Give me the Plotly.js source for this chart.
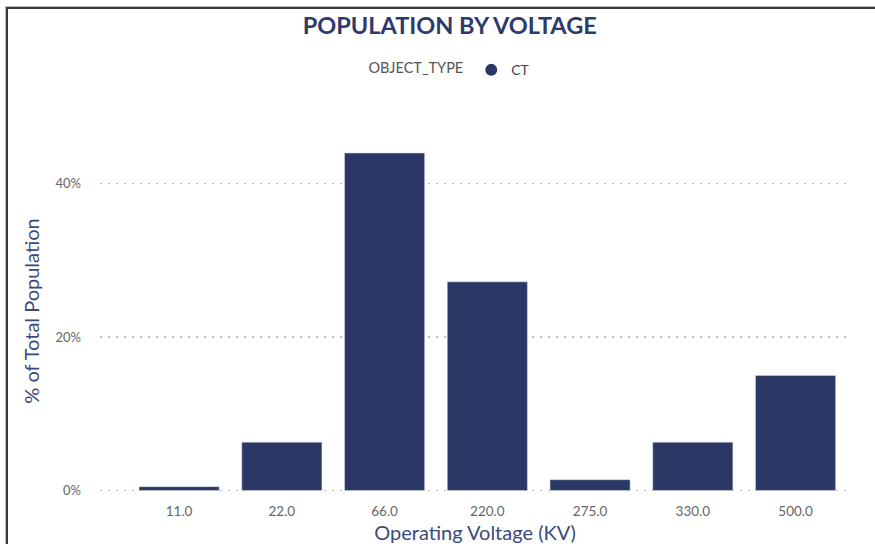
<!DOCTYPE html>
<html>
<head>
<meta charset="utf-8">
<script src="https://cdn.plot.ly/plotly-3.0.1.min.js"></script>
<style>
  html, body { margin: 0; padding: 0; background: #fff; }
  #wrap { position: relative; width: 875px; height: 544px; overflow: hidden; }
  #chart { width: 875px; height: 544px; }
  #frame { position: absolute; left: 6px; top: 7px; width: 875px; height: 544px;
           border-top: 2px solid #3a3a3a; border-left: 2px solid #3a3a3a;
           box-shadow: -1px -1px 0 #bdbdbd; pointer-events: none; }
</style>
</head>
<body>
<div id="wrap">
  <div id="chart"></div>
  <div id="frame"></div>
</div>
<script>
const categories = ["11.0", "22.0", "66.0", "220.0", "275.0", "330.0", "500.0"];
const pctValues = [0.5, 6.3, 44.0, 27.2, 1.4, 6.3, 15.0];
const seriesName = "CT";
const yTicks = [0, 20, 40];
const yTickLabels = ["0%", "20%", "40%"];

const barColor = "#2b3865";
const font = "Lato, 'Open Sans', sans-serif";

const traces = [
  {
    type: "bar",
    x: categories,
    y: pctValues,
    name: seriesName,
    marker: { color: barColor, line: { color: "#dfe2ea", width: 0.5 } },
    showlegend: false,
    hoverinfo: "x+y"
  },
  {
    type: "scatter",
    mode: "markers",
    x: [null],
    y: [null],
    name: seriesName,
    marker: { color: barColor, symbol: "circle", size: 15 },
    showlegend: true
  }
];

const layout = {
  width: 875,
  height: 544,
  paper_bgcolor: "#ffffff",
  plot_bgcolor: "#ffffff",
  margin: { l: 100, r: 25, t: 130, b: 52, autoexpand: false },
  font: { family: font, color: "#555" },
  title: {
    text: "<b>POPULATION BY VOLTAGE</b>",
    font: { family: font, size: 23.5, color: "#2e3a6b" },
    x: 0.514, xanchor: "center",
    y: 0.952, yanchor: "middle"
  },
  showlegend: true,
  legend: {
    orientation: "h",
    x: 0.468, xanchor: "center",
    y: 1.165, yanchor: "middle",
    title: { text: "OBJECT_TYPE", font: { family: font, size: 14.5, color: "#555" }, side: "left" },
    font: { family: font, size: 14, color: "#444" },
    itemsizing: "constant",
    itemwidth: 30
  },
  bargap: 0.22,
  xaxis: {
    type: "category",
    categoryarray: categories,
    range: [-0.77, 6.53],
    showgrid: false,
    zeroline: false,
    showline: false,
    ticks: "",
    automargin: false,
    ticklabelstandoff: 9,
    tickfont: { family: font, size: 13.5, color: "#666" },
    title: {
      text: "Operating Voltage (KV)",
      font: { family: font, size: 20, color: "#3b4a7a" },
      standoff: 13
    }
  },
  yaxis: {
    range: [-0.2, 47],
    tickvals: yTicks,
    ticktext: yTickLabels,
    showgrid: true,
    gridcolor: "#bdbdbd",
    griddash: "2px,6px",
    gridwidth: 1.2,
    zeroline: false,
    showline: false,
    ticks: "",
    automargin: false,
    ticklabelstandoff: 18,
    tickfont: { family: font, size: 13, color: "#666" },
    title: {
      text: "% of Total Population",
      font: { family: font, size: 20, color: "#3b4a7a" },
      standoff: 10
    }
  }
};

Plotly.newPlot("chart", traces, layout, { displayModeBar: false, staticPlot: true });
</script>
</body>
</html>
